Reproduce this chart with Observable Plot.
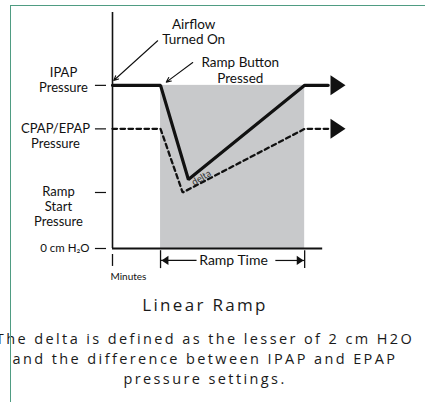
<!DOCTYPE html>
<html>
<head>
<meta charset="utf-8">
<script src="https://cdn.jsdelivr.net/npm/d3@7"></script>
<script src="https://cdn.jsdelivr.net/npm/@observablehq/plot@0.6"></script>
<style>
  body { margin: 0; background: #fff; }
  #wrap { position: relative; width: 425px; height: 402px; overflow: hidden; font-family: Lato, "Open Sans", sans-serif; }
  #chart { position: absolute; left: 0; top: 0; }
  .frame { position: absolute; left: 10px; top: 5px; right: -2px; bottom: -2px; border-top: 1px solid #4f9c82; border-left: 1px solid #4f9c82; z-index: 5; }
  .cap { position: absolute; left: 205px; transform: translateX(-50%); white-space: nowrap; text-align: center; color: #1a1a1a; font-family: "Open Sans", sans-serif; }
  #title { top: 293px; font-size: 17px; letter-spacing: 2.3px; line-height: 23px; }
  #note { top: 329px; font-size: 14.5px; line-height: 20px; letter-spacing: 2.4px; }
</style>
</head>
<body>
<div id="wrap">
  <div id="chart"></div>
  <div id="title" class="cap"></div>
  <div id="note" class="cap"></div>
  <div class="frame"></div>
</div>
<script>
// ---- data (x: minutes-like units, y: cm H2O-like units) ----
const yTickValues = [15, 11, 5.15, 0];
const yTickLabels = ["IPAP\nPressure", "CPAP/EPAP\nPressure", "Ramp\nStart\nPressure", "0 cm H₂O"];

const ipapTimes  = [0, 10, 15.8, 40, 44.9];
const ipapValues = [15, 15, 6.35, 15, 15];
const epapTimes  = [0, 10, 14.6, 40, 45.6];
const epapValues = [11, 11, 5.15, 11, 11];

const rampStartTime = 10;
const rampEndTime = 40;
const rampTop = 15;
const arrowTipTime = 48.5;
const xAxisEnd = 43.75;
const yAxisTop = 21.7;

const annoLabels = ["Airflow\nTurned On", "Ramp Button\nPressed"];
const annoX = [16.9, 26.6];
const annoY = [19.9, 16.4];
const annoFromX = [9.4, 16.7];
const annoFromY = [19.1, 17.1];
const annoToX = [0.25, 11.2];
const annoToY = [15.45, 15.3];

const rampTimeLabel = "Ramp Time";
const rampTimeY = -1.1;
const rampTimeTextLeft = 17.6;
const rampTimeTextRight = 34.0;
const minutesLabel = "Minutes";
const deltaLabel = "delta";
const deltaX = 18.5;
const deltaY = 6.5;

const titleText = "Linear Ramp";
const noteLines = [
  "The delta is defined as the lesser of 2 cm H2O",
  "and the difference between IPAP and EPAP",
  "pressure settings."
];

// ---- tables built from arrays ----
const ipap = ipapTimes.map((t, i) => ({t, v: ipapValues[i]}));
const epap = epapTimes.map((t, i) => ({t, v: epapValues[i]}));
const ticks = yTickValues.map((v, i) => ({v, label: yTickLabels[i]}));
const annos = annoLabels.map((label, i) => ({label, x: annoX[i], y: annoY[i], x1: annoFromX[i], y1: annoFromY[i], x2: annoToX[i], y2: annoToY[i]}));

// right-pointing filled arrowhead with tip at the anchor point
const headSymbol = {
  draw(context, size) {
    const r = Math.sqrt(size / Math.PI);
    context.moveTo(0, 0);
    context.lineTo(-1.5 * r, -r);
    context.lineTo(-1.5 * r, r);
    context.closePath();
  }
};

const font = "Lato, 'Open Sans', sans-serif";
const chart = Plot.plot({
  width: 425,
  height: 285,
  marginLeft: 112,
  marginRight: 80,
  marginTop: 12,
  marginBottom: 37,
  x: {domain: [0, arrowTipTime], axis: null},
  y: {domain: [0, yAxisTop], axis: null},
  style: {fontFamily: font, color: "#111", background: "transparent", overflow: "visible"},
  marks: [
    // shaded ramp period
    Plot.rectY([{x1: rampStartTime, x2: rampEndTime, y: rampTop}], {x1: "x1", x2: "x2", y1: 0, y2: "y", fill: "#c8c9cb"}),
    // axes
    Plot.ruleX([0], {y1: 0, y2: yAxisTop, stroke: "#111", strokeWidth: 1.6}),
    Plot.ruleY([0], {x1: 0, x2: xAxisEnd, stroke: "#111", strokeWidth: 1.8}),
    // y tick dashes and labels
    Plot.ruleY(ticks, {y: "v", x1: -3.55, x2: -1.25, stroke: "#111", strokeWidth: 1.2}),
    Plot.text(ticks.filter((d, i) => i === 0), {x: 0, y: "v", text: "label", dx: -49, dy: -6, lineHeight: 1.15, fontSize: 13, textAnchor: "middle"}),
    Plot.text(ticks.filter((d, i) => i === 1), {x: 0, y: "v", text: "label", dx: -57, dy: 7, lineHeight: 1.15, fontSize: 13, textAnchor: "middle"}),
    Plot.text(ticks.filter((d, i) => i === 2), {x: 0, y: "v", text: "label", dx: -54, dy: 14, lineHeight: 1.15, fontSize: 13, textAnchor: "middle"}),
    Plot.text(ticks.filter((d, i) => i === 3), {x: 0, y: "v", text: "label", dx: -23, fontSize: 11.5, textAnchor: "end"}),
    // pressure curves
    Plot.line(epap, {x: "t", y: "v", stroke: "#111", strokeWidth: 2.3, strokeDasharray: "4.5,3.5", strokeLinejoin: "miter"}),
    Plot.line(ipap, {x: "t", y: "v", stroke: "#111", strokeWidth: 3.2, strokeLinejoin: "miter"}),
    Plot.dot([rampTop, epapValues[0]], {x: arrowTipTime, y: d => d, symbol: headSymbol, r: 10, fill: "#111", stroke: "none"}),
    // delta label
    Plot.text([deltaLabel], {x: deltaX, y: deltaY, text: d => d, rotate: -31, fontSize: 9.5, fill: "#333"}),
    // annotations
    Plot.text(annos, {x: "x", y: "y", text: "label", fontSize: 13.5, lineHeight: 1.12, textAnchor: "middle"}),
    Plot.arrow(annos, {x1: "x1", y1: "y1", x2: "x2", y2: "y2", stroke: "#111", strokeWidth: 1.1, headLength: 7, headAngle: 50}),
    // ramp time bracket
    Plot.ruleX([rampStartTime, rampEndTime], {y1: -0.2, y2: -1.85, stroke: "#111", strokeWidth: 1.3}),
    Plot.ruleY([rampTimeY], {x1: rampStartTime, x2: rampTimeTextLeft, stroke: "#111", strokeWidth: 1.2}),
    Plot.ruleY([rampTimeY], {x1: rampTimeTextRight, x2: rampEndTime, stroke: "#111", strokeWidth: 1.2}),
    Plot.dot([rampStartTime], {x: d => d, y: rampTimeY, symbol: headSymbol, r: 4.6, rotate: 180, dx: 1, fill: "#111", stroke: "none"}),
    Plot.dot([rampEndTime], {x: d => d, y: rampTimeY, symbol: headSymbol, r: 4.6, dx: -1, fill: "#111", stroke: "none"}),
    Plot.text([rampTimeLabel], {x: (rampStartTime + rampEndTime) / 2 + 0.2, y: rampTimeY, text: d => d, fontSize: 14}),
    // minutes tick and label
    Plot.ruleX([0], {y1: -0.55, y2: -1.65, stroke: "#111", strokeWidth: 1.3}),
    Plot.text([minutesLabel], {x: 0, y: -2.6, text: d => d, textAnchor: "start", dx: -2, fontSize: 10})
  ]
});
document.getElementById("chart").appendChild(chart);
document.getElementById("title").textContent = titleText;
const note = document.getElementById("note");
noteLines.forEach((line, i) => {
  if (i) note.appendChild(document.createElement("br"));
  note.appendChild(document.createTextNode(line));
});
</script>
</body>
</html>
